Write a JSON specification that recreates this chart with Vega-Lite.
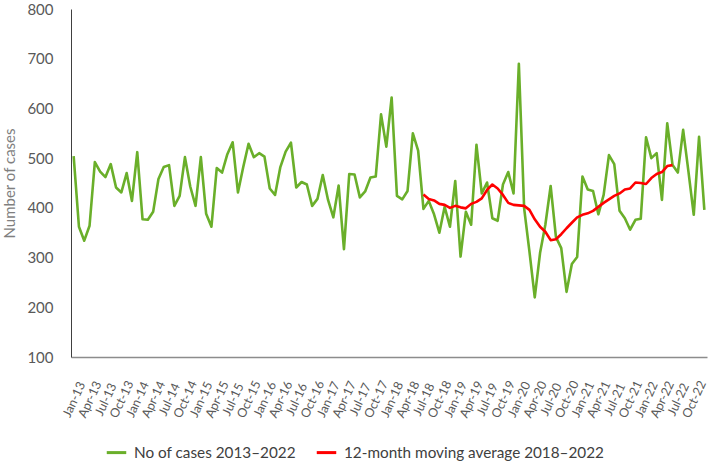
{
  "$schema": "https://vega.github.io/schema/vega-lite/v6.json",
  "width": 636,
  "height": 348,
  "autosize": {"type": "none"},
  "padding": {"left": 71, "top": 9, "right": 2, "bottom": 107},
  "background": "white",
  "config": {"font": "Lato", "view": {"stroke": null}},
  "data": {"values": [
    {"month":"Jan-13","cases":504},{"month":"Feb-13","cases":362},{"month":"Mar-13","cases":334},{"month":"Apr-13","cases":364},{"month":"May-13","cases":492},{"month":"Jun-13","cases":473},{"month":"Jul-13","cases":462},{"month":"Aug-13","cases":488},{"month":"Sep-13","cases":441},{"month":"Oct-13","cases":431},{"month":"Nov-13","cases":470},{"month":"Dec-13","cases":414},
    {"month":"Jan-14","cases":512},{"month":"Feb-14","cases":377},{"month":"Mar-14","cases":376},{"month":"Apr-14","cases":392},{"month":"May-14","cases":458},{"month":"Jun-14","cases":482},{"month":"Jul-14","cases":486},{"month":"Aug-14","cases":404},{"month":"Sep-14","cases":424},{"month":"Oct-14","cases":502},{"month":"Nov-14","cases":443},{"month":"Dec-14","cases":404},
    {"month":"Jan-15","cases":502},{"month":"Feb-15","cases":388},{"month":"Mar-15","cases":362},{"month":"Apr-15","cases":480},{"month":"May-15","cases":471},{"month":"Jun-15","cases":508},{"month":"Jul-15","cases":532},{"month":"Aug-15","cases":431},{"month":"Sep-15","cases":482},{"month":"Oct-15","cases":529},{"month":"Nov-15","cases":502},{"month":"Dec-15","cases":510},
    {"month":"Jan-16","cases":503},{"month":"Feb-16","cases":439},{"month":"Mar-16","cases":426},{"month":"Apr-16","cases":482},{"month":"May-16","cases":513},{"month":"Jun-16","cases":531},{"month":"Jul-16","cases":441},{"month":"Aug-16","cases":452},{"month":"Sep-16","cases":447},{"month":"Oct-16","cases":404},{"month":"Nov-16","cases":418},{"month":"Dec-16","cases":466},
    {"month":"Jan-17","cases":416},{"month":"Feb-17","cases":381},{"month":"Mar-17","cases":445},{"month":"Apr-17","cases":317},{"month":"May-17","cases":468},{"month":"Jun-17","cases":467},{"month":"Jul-17","cases":421},{"month":"Aug-17","cases":433},{"month":"Sep-17","cases":461},{"month":"Oct-17","cases":463},{"month":"Nov-17","cases":588},{"month":"Dec-17","cases":523},
    {"month":"Jan-18","cases":622},{"month":"Feb-18","cases":424},{"month":"Mar-18","cases":417},{"month":"Apr-18","cases":434},{"month":"May-18","cases":550},{"month":"Jun-18","cases":515},{"month":"Jul-18","cases":398,"avg":427},{"month":"Aug-18","cases":414,"avg":418},{"month":"Sep-18","cases":387,"avg":415},{"month":"Oct-18","cases":350,"avg":408},{"month":"Nov-18","cases":402,"avg":406},{"month":"Dec-18","cases":362,"avg":400},
    {"month":"Jan-19","cases":454,"avg":404},{"month":"Feb-19","cases":302,"avg":401},{"month":"Mar-19","cases":392,"avg":399},{"month":"Apr-19","cases":366,"avg":408},{"month":"May-19","cases":527,"avg":412},{"month":"Jun-19","cases":429,"avg":419},{"month":"Jul-19","cases":451,"avg":436},{"month":"Aug-19","cases":379,"avg":447},{"month":"Sep-19","cases":374,"avg":439},{"month":"Oct-19","cases":447,"avg":426},{"month":"Nov-19","cases":472,"avg":410},{"month":"Dec-19","cases":429,"avg":406},
    {"month":"Jan-20","cases":690,"avg":405},{"month":"Feb-20","cases":399,"avg":404},{"month":"Mar-20","cases":312,"avg":396},{"month":"Apr-20","cases":220,"avg":377},{"month":"May-20","cases":309,"avg":362},{"month":"Jun-20","cases":366,"avg":352},{"month":"Jul-20","cases":444,"avg":335},{"month":"Aug-20","cases":341,"avg":337},{"month":"Sep-20","cases":319,"avg":347},{"month":"Oct-20","cases":231,"avg":359},{"month":"Nov-20","cases":287,"avg":370},{"month":"Dec-20","cases":301,"avg":381},
    {"month":"Jan-21","cases":463,"avg":386},{"month":"Feb-21","cases":437,"avg":389},{"month":"Mar-21","cases":434,"avg":394},{"month":"Apr-21","cases":387,"avg":402},{"month":"May-21","cases":426,"avg":410},{"month":"Jun-21","cases":506,"avg":417},{"month":"Jul-21","cases":488,"avg":424},{"month":"Aug-21","cases":394,"avg":429},{"month":"Sep-21","cases":379,"avg":437},{"month":"Oct-21","cases":356,"avg":439},{"month":"Nov-21","cases":376,"avg":451},{"month":"Dec-21","cases":378,"avg":450},
    {"month":"Jan-22","cases":542,"avg":448},{"month":"Feb-22","cases":500,"avg":460},{"month":"Mar-22","cases":510,"avg":468},{"month":"Apr-22","cases":416,"avg":472},{"month":"May-22","cases":570,"avg":484},{"month":"Jun-22","cases":486,"avg":486},{"month":"Jul-22","cases":471},{"month":"Aug-22","cases":557},{"month":"Sep-22","cases":473},{"month":"Oct-22","cases":386},{"month":"Nov-22","cases":543},{"month":"Dec-22","cases":396}
  ]},
  "transform": [
    {"fold": ["cases", "avg"], "as": ["series", "value"]},
    {"filter": "datum.value != null"}
  ],
  "mark": {"type": "line", "strokeWidth": 2.6, "strokeJoin": "round"},
  "encoding": {
    "x": {
      "field": "month", "type": "ordinal", "sort": null,
      "scale": {"type": "point", "padding": 0.5},
      "axis": {
        "title": null, "ticks": false, "grid": false,
        "domainColor": "#8c8c8c", "domainWidth": 1.5,
        "labelAngle": -65, "labelAlign": "center", "labelBaseline": "middle",
        "labelFontSize": 12.5, "labelColor": "#595959", "labelPadding": 42,
        "values": ["Jan-13","Apr-13","Jul-13","Oct-13","Jan-14","Apr-14","Jul-14","Oct-14","Jan-15","Apr-15","Jul-15","Oct-15","Jan-16","Apr-16","Jul-16","Oct-16","Jan-17","Apr-17","Jul-17","Oct-17","Jan-18","Apr-18","Jul-18","Oct-18","Jan-19","Apr-19","Jul-19","Oct-19","Jan-20","Apr-20","Jul-20","Oct-20","Jan-21","Apr-21","Jul-21","Oct-21","Jan-22","Apr-22","Jul-22","Oct-22"]
      }
    },
    "y": {
      "field": "value", "type": "quantitative",
      "scale": {"domain": [100, 800], "nice": false, "zero": false},
      "axis": {
        "title": "Number of cases", "titleFontSize": 15, "titleFontWeight": "normal", "titleColor": "#7f7f7f",
        "titleX": -62, "titleY": 174, "titleBaseline": "middle",
        "values": [100,200,300,400,500,600,700,800],
        "ticks": false, "grid": false,
        "domainColor": "#404040", "domainWidth": 1,
        "labelFontSize": 15, "labelColor": "#595959", "labelPadding": 18
      }
    },
    "color": {
      "field": "series", "type": "nominal",
      "scale": {"domain": ["cases", "avg"], "range": ["#6aaf2a", "#ff0000"]},
      "legend": {
        "title": null, "orient": "none", "direction": "horizontal",
        "legendX": 34, "legendY": 432,
        "symbolType": "stroke", "symbolStrokeWidth": 3, "symbolSize": 380,
        "labelFontSize": 15.3, "labelColor": "#404040", "labelOffset": 6, "columnPadding": 14, "labelLimit": 400,
        "labelExpr": "datum.value == 'cases' ? 'No of cases 2013–2022' : '12-month moving average 2018–2022'"
      }
    }
  }
}
